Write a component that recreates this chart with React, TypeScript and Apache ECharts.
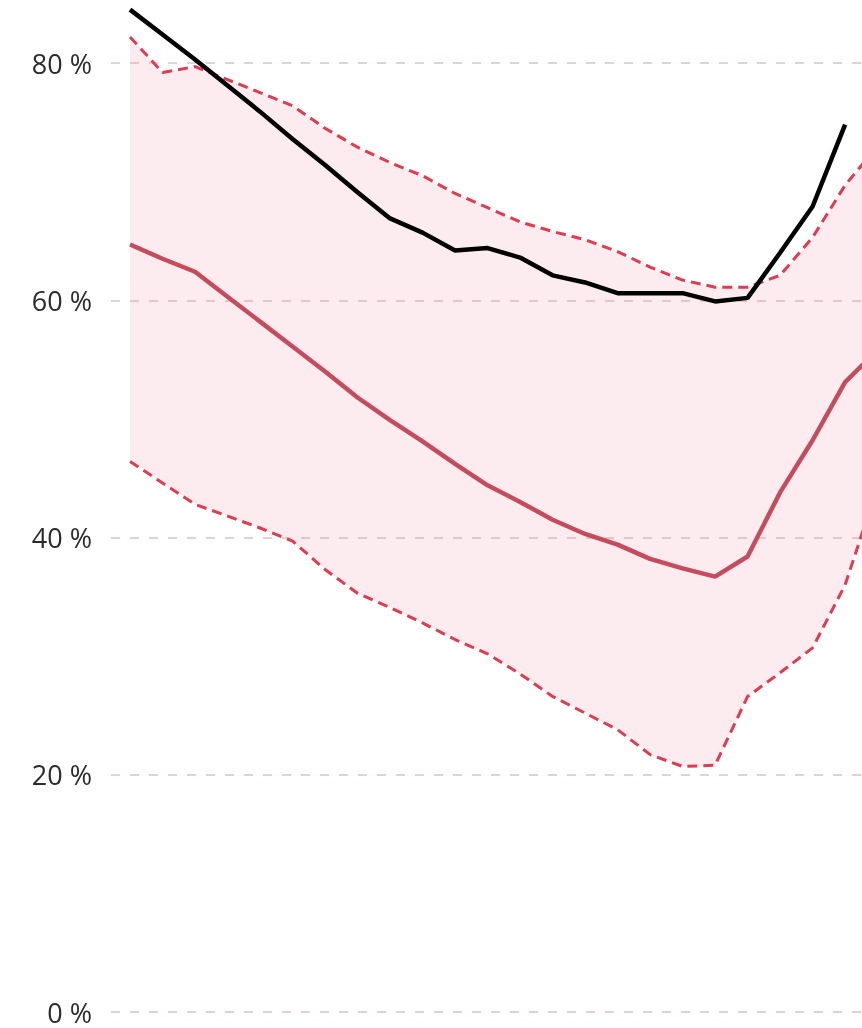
import React, { useEffect, useRef } from "react";
import * as echarts from "echarts";

// x positions are sequential period indices
const actual = [84.5, 82.4, 80.3, 78.1, 75.9, 73.6, 71.4, 69.1, 66.9, 65.7, 64.2, 64.4, 63.6, 62.1, 61.5, 60.6, 60.6, 60.6, 59.9, 60.2, 64.0, 67.9, 74.8];
const median = [64.7, 63.5, 62.4, 60.3, 58.2, 56.1, 54.0, 51.8, 49.9, 48.1, 46.2, 44.4, 43.0, 41.5, 40.3, 39.4, 38.2, 37.4, 36.7, 38.4, 43.8, 48.2, 53.1, 55.8];
const upper = [82.2, 79.2, 79.7, 78.6, 77.5, 76.4, 74.5, 72.9, 71.6, 70.5, 69.0, 67.8, 66.6, 65.8, 65.1, 64.1, 62.8, 61.7, 61.1, 61.1, 62.1, 65.3, 69.7, 73.0];
const lower = [46.4, 44.6, 42.8, 41.8, 40.8, 39.7, 37.3, 35.3, 34.1, 32.8, 31.4, 30.2, 28.5, 26.6, 25.2, 23.8, 21.7, 20.7, 20.8, 26.6, 28.6, 30.7, 36.0, 44.3];
const yTicks = [0, 20, 40, 60, 80];

const pts = (arr: number[]) => arr.map((v, i) => [i, v]);

export default function App() {
  const ref = useRef<HTMLDivElement>(null);
  useEffect(() => {
    if (!ref.current) return;
    const chart = echarts.init(ref.current, null, { renderer: "svg" });
    const dashRed = "#e23a4f";
    chart.setOption({
      animation: false,
      grid: { left: 111, right: 0, top: 63, bottom: 16 },
      xAxis: {
        type: "value",
        min: -0.585,
        max: 22.52,
        show: false,
      },
      yAxis: {
        type: "value",
        min: yTicks[0],
        max: yTicks[yTicks.length - 1],
        interval: 20,
        axisLine: { show: false },
        axisTick: { show: false },
        axisLabel: {
          formatter: "{value} %",
          fontFamily: "Open Sans",
          fontSize: 27,
          lineHeight: 20,
          color: "#2b2b2b",
          margin: 19,
        },
        splitLine: {
          lineStyle: { color: "#d9c3c8", width: 1.5, type: [9, 10] },
        },
      },
      series: [
        {
          type: "custom",
          data: [0],
          clip: false,
          silent: true,
          z: 1,
          renderItem: (params: any, api: any) => {
            const poly: number[][] = [];
            upper.forEach((v, i) => poly.push(api.coord([i, v])));
            for (let i = lower.length - 1; i >= 0; i--) poly.push(api.coord([i, lower[i]]));
            return {
              type: "polygon",
              shape: { points: poly },
              style: { fill: "rgba(232,100,125,0.12)" },
            };
          },
        },
        {
          type: "line",
          data: pts(upper),
          symbol: "none",
          lineStyle: { color: dashRed, width: 3, type: [10, 6] },
          clip: false,
          z: 3,
        },
        {
          type: "line",
          data: pts(lower),
          symbol: "none",
          lineStyle: { color: dashRed, width: 3, type: [10, 6] },
          clip: false,
          z: 3,
        },
        {
          type: "line",
          data: pts(median),
          symbol: "none",
          lineStyle: { color: "#c64c5d", width: 4.5 },
          clip: false,
          z: 4,
        },
        {
          type: "line",
          data: pts(actual),
          symbol: "none",
          lineStyle: { color: "#000", width: 4.5 },
          clip: false,
          z: 5,
        },
      ],
    });
    return () => chart.dispose();
  }, []);
  return (
    <div
      ref={ref}
      style={{ position: "fixed", left: 0, top: 0, width: 862, height: 1028 }}
    />
  );
}
